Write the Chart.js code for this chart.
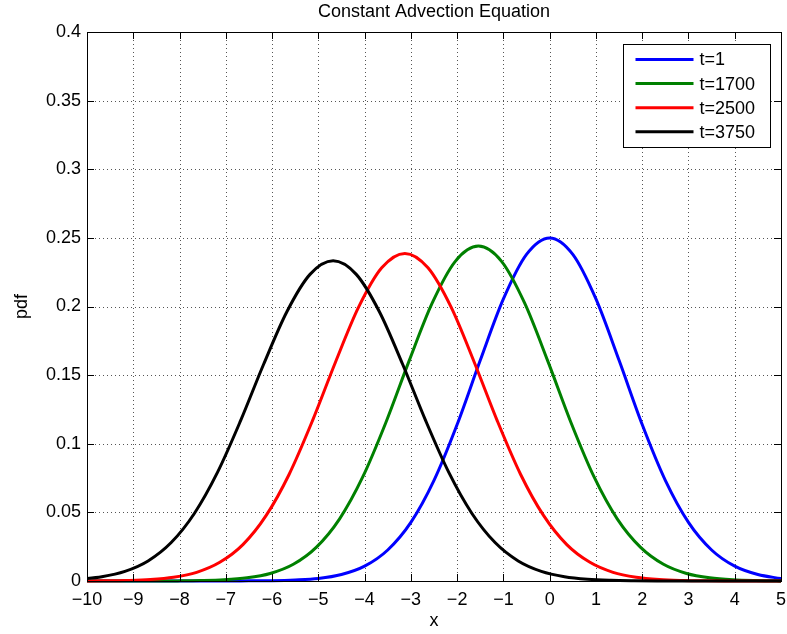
<!DOCTYPE html>
<html>
<head>
<meta charset="utf-8">
<title>Constant Advection Equation</title>
<script src="https://cdn.jsdelivr.net/npm/chart.js@4.4.1/dist/chart.umd.min.js"></script>
<style>
  html, body { margin: 0; padding: 0; background: #fff; }
  canvas { display: block; }
</style>
</head>
<body>
<canvas id="advectionChart" width="787" height="634"></canvas>
<script>
// Axis ticks
const xTicks = [-10, -9, -8, -7, -6, -5, -4, -3, -2, -1, 0, 1, 2, 3, 4, 5];
const yTicks = [0, 0.05, 0.1, 0.15, 0.2, 0.25, 0.3, 0.35, 0.4];

const chartTitle = 'Constant Advection Equation';
const seriesLabels = ['t=1', 't=1700', 't=2500', 't=3750'];
const seriesColors = ['#0000ff', '#008000', '#ff0000', '#000000'];

// pdf snapshots of the advected profile
const xT1 = [-10, -9.5, -9, -8.5, -8, -7.5, -7, -6.5, -6, -5.5, -5, -4.5, -4, -3.5, -3, -2.5, -2, -1.5, -1, -0.5,
             0, 0.5, 1, 1.5, 2, 2.5, 3, 3.5, 4, 4.5, 5];
const pdfT1 = [0, 0, 0, 0, 0, 0, 0, 0.0001, 0.0002, 0.0007, 0.0018, 0.0047, 0.0108, 0.0226, 0.0427, 0.0733, 0.1140, 0.1608, 0.2055, 0.2380,
               0.2500, 0.2380, 0.2055, 0.1608, 0.1140, 0.0733, 0.0427, 0.0226, 0.0108, 0.0047, 0.0018];

const xT1700 = [-10.04, -9.54, -9.04, -8.54, -8.04, -7.54, -7.04, -6.54, -6.04, -5.54, -5.04, -4.54, -4.04, -3.54, -3.04, -2.54,
                -2.04, -1.54, -1.04, -0.54, -0.04, 0.46, 0.96, 1.46, 1.96, 2.46, 2.96, 3.46, 3.96, 4.46, 4.96, 5.46];
const pdfT1700 = [0, 0, 0.00001, 0.00003, 0.00009, 0.00029, 0.00085, 0.0023, 0.0055, 0.0122, 0.0247, 0.0453, 0.0758, 0.1155, 0.1602, 0.2024,
                  0.2329, 0.2440, 0.2329, 0.2024, 0.1602, 0.1155, 0.0758, 0.0453, 0.0247, 0.0122, 0.0055, 0.0023, 0.00085, 0.00029, 0.00009, 0.00003];

const xT2500 = [-10.13, -9.63, -9.13, -8.63, -8.13, -7.63, -7.13, -6.63, -6.13, -5.63, -5.13, -4.63, -4.13, -3.63, -3.13, -2.63,
                -2.13, -1.63, -1.13, -0.63, -0.13, 0.37, 0.87, 1.37, 1.87, 2.37, 2.87, 3.37, 3.87, 4.37, 4.87, 5.37];
const pdfT2500 = [0.00004, 0.00012, 0.00038, 0.00105, 0.0027, 0.0063, 0.0136, 0.0265, 0.0476, 0.0778, 0.1165, 0.1594, 0.1995, 0.2282, 0.2387, 0.2282,
                  0.1995, 0.1594, 0.1165, 0.0778, 0.0476, 0.0265, 0.0136, 0.0063, 0.0027, 0.00105, 0.00038, 0.00012, 0.00004, 0.00001, 0, 0];

const xT3750 = [-10.18, -9.68, -9.18, -8.68, -8.18, -7.68, -7.18, -6.68, -6.18, -5.68, -5.18, -4.68, -4.18, -3.68, -3.18, -2.68,
                -2.18, -1.68, -1.18, -0.68, -0.18, 0.32, 0.82, 1.32, 1.82, 2.32, 2.82, 3.32, 3.82, 4.32, 4.82, 5.32];
const pdfT3750 = [0.00124, 0.0031, 0.0070, 0.0146, 0.0280, 0.0492, 0.0791, 0.1168, 0.1581, 0.1962, 0.2234, 0.2333, 0.2234, 0.1962, 0.1581, 0.1168,
                  0.0791, 0.0492, 0.0280, 0.0146, 0.0070, 0.0031, 0.00124, 0.00046, 0.00016, 0.00005, 0.00001, 0, 0, 0, 0, 0];

const seriesX = [xT1, xT1700, xT2500, xT3750];
const seriesY = [pdfT1, pdfT1700, pdfT2500, pdfT3750];

const FONT = "'Liberation Sans', Arial, Helvetica, sans-serif";
Chart.defaults.font.family = FONT;
Chart.defaults.color = '#000';

function pairs(xs, ys) {
    return xs.map((x, i) => ({ x: x, y: ys[i] }));
}

// Matlab-style axes: dotted grid, boxed frame, inward ticks, title over the plot and framed legend
const matlabAxes = {
    id: 'matlabAxes',
    beforeDatasetsDraw(chart) {
        const { ctx, chartArea: a, scales: { x, y } } = chart;
        ctx.save();
        ctx.strokeStyle = '#555';
        ctx.lineWidth = 1;
        ctx.setLineDash([1, 3]);
        xTicks.forEach(v => {
            const px = Math.round(x.getPixelForValue(v)) + 0.5;
            ctx.beginPath();
            ctx.moveTo(px, a.top);
            ctx.lineTo(px, a.bottom);
            ctx.stroke();
        });
        yTicks.forEach(v => {
            const py = Math.round(y.getPixelForValue(v)) + 0.5;
            ctx.beginPath();
            ctx.moveTo(a.left, py);
            ctx.lineTo(a.right, py);
            ctx.stroke();
        });
        ctx.restore();
    },
    afterDatasetsDraw(chart) {
        const { ctx, chartArea: a, scales: { x, y } } = chart;
        const tick = 7;
        ctx.save();
        ctx.strokeStyle = '#000';
        ctx.lineWidth = 1;
        ctx.beginPath();
        xTicks.forEach(v => {
            const px = Math.round(x.getPixelForValue(v)) + 0.5;
            ctx.moveTo(px, a.bottom); ctx.lineTo(px, a.bottom - tick);
            ctx.moveTo(px, a.top); ctx.lineTo(px, a.top + tick);
        });
        yTicks.forEach(v => {
            const py = Math.round(y.getPixelForValue(v)) + 0.5;
            ctx.moveTo(a.left, py); ctx.lineTo(a.left + tick, py);
            ctx.moveTo(a.right, py); ctx.lineTo(a.right - tick, py);
        });
        ctx.stroke();
        ctx.strokeRect(Math.round(a.left) + 0.5, Math.round(a.top) + 0.5,
                       Math.round(a.right - a.left), Math.round(a.bottom - a.top));

        // title centred over the plot box
        ctx.fillStyle = '#000';
        ctx.font = '18px ' + FONT;
        ctx.textAlign = 'center';
        ctx.textBaseline = 'middle';
        ctx.fillText(chartTitle, (a.left + a.right) / 2, 12);

        // legend box, upper right
        const w = 147, h = 103;
        const bx = Math.round(a.right - 11 - w) + 0.5;
        const by = Math.round(a.top + 12) + 0.5;
        ctx.fillStyle = '#fff';
        ctx.fillRect(bx, by, w, h);
        ctx.strokeRect(bx, by, w, h);
        ctx.textAlign = 'left';
        chart.data.datasets.forEach((ds, i) => {
            const ry = by + 15 + i * 24.1;
            ctx.strokeStyle = ds.borderColor;
            ctx.lineWidth = 3;
            ctx.beginPath();
            ctx.moveTo(bx + 12, ry);
            ctx.lineTo(bx + 70, ry);
            ctx.stroke();
            ctx.fillStyle = '#000';
            ctx.fillText(ds.label, bx + 76, ry + 1);
        });
        ctx.restore();
    }
};

new Chart(document.getElementById('advectionChart'), {
    type: 'line',
    data: {
        datasets: seriesLabels.map((label, i) => ({
            label: label,
            data: pairs(seriesX[i], seriesY[i]),
            borderColor: seriesColors[i],
            backgroundColor: seriesColors[i],
            borderWidth: 3,
            pointRadius: 0,
            cubicInterpolationMode: 'monotone',
            fill: false,
            order: seriesLabels.length - 1 - i,
            clip: { left: 0, right: 0, top: 2, bottom: 2 }
        }))
    },
    options: {
        responsive: false,
        animation: false,
        layout: { padding: { left: 0, right: 6, top: 32, bottom: 0 } },
        plugins: {
            legend: { display: false },
            tooltip: { enabled: false },
            title: { display: false }
        },
        scales: {
            x: {
                type: 'linear',
                min: -10,
                max: 5,
                grid: { display: false, drawTicks: false },
                border: { display: false },
                afterBuildTicks: s => { s.ticks = xTicks.map(v => ({ value: v })); },
                afterFit: s => { s.height = 53; s.paddingLeft = 0; s.paddingRight = 0; },
                ticks: {
                    padding: 8,
                    maxRotation: 0,
                    autoSkip: false,
                    font: { size: 18 },
                    callback: v => (v < 0 ? '\u2212' + Math.abs(v) : String(v))
                },
                title: { display: true, text: 'x', font: { size: 18, lineHeight: 1.2 }, padding: { top: 0, bottom: 2 } }
            },
            y: {
                type: 'linear',
                min: 0,
                max: 0.4,
                grid: { display: false, drawTicks: false },
                border: { display: false },
                afterBuildTicks: s => { s.ticks = yTicks.map(v => ({ value: v })); },
                afterFit: s => { s.width = 87; s.paddingTop = 0; s.paddingBottom = 0; },
                ticks: {
                    padding: 6,
                    autoSkip: false,
                    font: { size: 18 },
                    callback: v => String(+v.toFixed(2))
                },
                title: { display: true, text: 'pdf', font: { size: 18, lineHeight: 1.2 }, padding: { top: 11, bottom: 0 } }
            }
        }
    },
    plugins: [matlabAxes]
});
</script>
</body>
</html>
